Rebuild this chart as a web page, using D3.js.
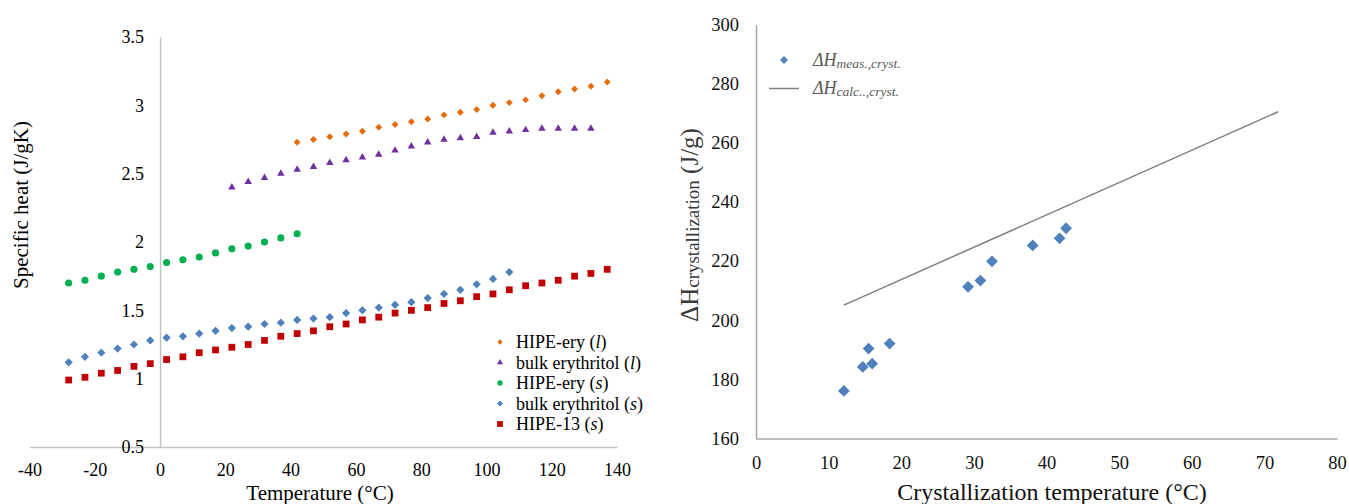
<!DOCTYPE html>
<html>
<head>
<meta charset="utf-8">
<script src="https://cdn.jsdelivr.net/npm/d3@7"></script>
<style>
  body { margin: 0; background: #fff; }
  svg { display: block; font-family: "Liberation Serif", "Times New Roman", serif; }
</style>
</head>
<body>
<div class="chart"></div>
<script>
const width = 1349,
    height = 504;

// left panel: specific heat vs temperature
const hipeEryL_T  = [42,47,52,57,62,67,72,77,82,87,92,97,102,107,112,117,122,127,132,137];
const hipeEryL_cp = [2.73,2.75,2.77,2.79,2.81,2.84,2.86,2.88,2.90,2.93,2.95,2.97,3.00,3.02,3.04,3.07,3.10,3.12,3.14,3.17];
const bulkL_T  = [22,27,32,37,42,47,52,57,62,67,72,77,82,87,92,97,102,107,112,117,122,127,132];
const bulkL_cp = [2.40,2.44,2.47,2.50,2.53,2.55,2.58,2.60,2.62,2.64,2.67,2.70,2.73,2.75,2.76,2.77,2.80,2.81,2.82,2.83,2.83,2.83,2.83];
const hipeEryS_T  = [-28,-23,-18,-13,-8,-3,2,7,12,17,22,27,32,37,42];
const hipeEryS_cp = [1.70,1.72,1.75,1.78,1.80,1.82,1.85,1.87,1.89,1.92,1.95,1.97,2.00,2.03,2.06];
const bulkS_T  = [-28,-23,-18,-13,-8,-3,2,7,12,17,22,27,32,37,42,47,52,57,62,67,72,77,82,87,92,97,102,107];
const bulkS_cp = [1.12,1.16,1.19,1.22,1.25,1.28,1.30,1.31,1.33,1.35,1.37,1.38,1.40,1.41,1.43,1.44,1.45,1.48,1.50,1.52,1.54,1.56,1.59,1.62,1.65,1.69,1.73,1.78];
const hipe13_T  = [-28,-23,-18,-13,-8,-3,2,7,12,17,22,27,32,37,42,47,52,57,62,67,72,77,82,87,92,97,102,107,112,117,122,127,132,137];
const hipe13_cp = [0.99,1.01,1.04,1.06,1.09,1.11,1.14,1.16,1.19,1.21,1.23,1.25,1.28,1.31,1.33,1.35,1.38,1.40,1.43,1.45,1.48,1.50,1.52,1.55,1.57,1.60,1.62,1.65,1.68,1.70,1.72,1.75,1.77,1.80];
const leftXTicks = [-40,-20,0,20,40,60,80,100,120,140];
const leftYTicks = [0.5,1,1.5,2,2.5,3,3.5];

// right panel: crystallization enthalpy
const crystT  = [12.1,14.7,15.5,16.0,18.4,29.2,30.9,32.5,38.1,41.8,42.7];
const dHmeas  = [176.1,184.2,190.4,185.3,192.1,211.3,213.4,219.9,225.3,227.7,231.1];
const calcT   = [12.1,71.9];
const dHcalc  = [205.1,270.5];
const rightXTicks = [0,10,20,30,40,50,60,70,80];
const rightYTicks = [160,180,200,220,240,260,280,300];

// square diamond like excel markers
const squareDiamond = {
  draw(ctx, size) {
    const r = Math.sqrt(size / 2);
    ctx.moveTo(0, -r); ctx.lineTo(r, 0); ctx.lineTo(0, r); ctx.lineTo(-r, 0); ctx.closePath();
  }
};

const series = [
  {name: "HIPE-ery ", st: "l", T: hipeEryL_T, cp: hipeEryL_cp, color: "#E46C0A", type: squareDiamond, size: 24, lsize: 14},
  {name: "bulk erythritol ", st: "l", T: bulkL_T, cp: bulkL_cp, color: "#7030A0", type: d3.symbolTriangle, size: 24, lsize: 16},
  {name: "HIPE-ery ", st: "s", T: hipeEryS_T, cp: hipeEryS_cp, color: "#00B050", type: d3.symbolCircle, size: 40, lsize: 22},
  {name: "bulk erythritol ", st: "s", T: bulkS_T, cp: bulkS_cp, color: "#4F81BD", type: squareDiamond, size: 34, lsize: 18},
  {name: "HIPE-13 ", st: "s", T: hipe13_T, cp: hipe13_cp, color: "#C00000", type: d3.symbolSquare, size: 46, lsize: 34}
];

const svg = d3.select(".chart").append("svg")
    .attr("width", width)
    .attr("height", height);

// ---------- left chart ----------
const x1 = d3.scaleLinear().domain([-40, 140]).range([29.5, 617]);
const y1 = d3.scaleLinear().domain([0.5, 3.5]).range([447, 37]);
const left = svg.append("g");

left.append("g")
    .attr("transform", `translate(0,${y1(0.5)})`)
    .call(d3.axisBottom(x1).tickValues(leftXTicks).tickSize(0).tickSizeOuter(0).tickPadding(16).tickFormat(d => String(d)))
    .call(g => g.select(".domain").attr("stroke", "#c4c4c4").attr("stroke-width", 1.5))
    .call(g => g.selectAll("text").attr("font-size", 18).attr("fill", "#000").style("font-family", "Liberation Serif"));

left.append("g")
    .attr("transform", `translate(${x1(0)},0)`)
    .call(d3.axisLeft(y1).tickValues(leftYTicks).tickSize(0).tickSizeOuter(0).tickPadding(16).tickFormat(d => String(d)))
    .call(g => g.select(".domain").attr("stroke", "#c4c4c4").attr("stroke-width", 1.5))
    .call(g => g.selectAll("text").attr("font-size", 18).attr("fill", "#000").style("font-family", "Liberation Serif"));

series.forEach(s => {
  left.append("g").selectAll("path")
      .data(s.T.map((t, i) => [t, s.cp[i]]))
      .enter().append("path")
      .attr("d", d3.symbol().type(s.type).size(s.size))
      .attr("transform", d => `translate(${x1(d[0])},${y1(d[1])})`)
      .attr("fill", s.color);
});

const legend = left.append("g");
series.forEach((s, i) => {
  const yy = 342 + i * 20.5;
  legend.append("path")
      .attr("d", d3.symbol().type(s.type).size(s.lsize))
      .attr("transform", `translate(500,${yy})`)
      .attr("fill", s.color);
  const t = legend.append("text")
      .attr("x", 516).attr("y", yy).attr("dy", "0.35em")
      .attr("font-size", 18).attr("fill", "#000");
  t.append("tspan").text(s.name + "(");
  t.append("tspan").attr("font-style", "italic").text(s.st);
  t.append("tspan").text(")");
});

left.append("text")
    .attr("x", 320).attr("y", 500)
    .attr("text-anchor", "middle")
    .attr("font-size", 21)
    .text("Temperature (°C)");

left.append("text")
    .attr("transform", "translate(28,205) rotate(-90)")
    .attr("text-anchor", "middle")
    .attr("font-size", 21)
    .text("Specific heat (J/gK)");

// ---------- right chart ----------
const x2 = d3.scaleLinear().domain([0, 80]).range([756, 1337]);
const y2 = d3.scaleLinear().domain([160, 300]).range([438.5, 24.5]);
const right = svg.append("g");

right.append("g")
    .attr("transform", `translate(0,${y2(160)})`)
    .call(d3.axisBottom(x2).tickValues(rightXTicks).tickSize(0).tickSizeOuter(0).tickPadding(17))
    .call(g => g.select(".domain").attr("stroke", "#a6a6a6").attr("stroke-width", 1.5))
    .call(g => g.selectAll("text").attr("font-size", 18.5).attr("fill", "#111").style("font-family", "Liberation Serif"));

right.append("g")
    .attr("transform", `translate(${x2(0)},0)`)
    .call(d3.axisLeft(y2).tickValues(rightYTicks).tickSize(0).tickSizeOuter(0).tickPadding(17))
    .call(g => g.select(".domain").attr("stroke", "#a6a6a6").attr("stroke-width", 1.5))
    .call(g => g.selectAll("text").attr("font-size", 18.5).attr("fill", "#111").style("font-family", "Liberation Serif"));

right.append("path")
    .datum(calcT.map((t, i) => [t, dHcalc[i]]))
    .attr("d", d3.line().x(d => x2(d[0])).y(d => y2(d[1])))
    .attr("fill", "none")
    .attr("stroke", "#7f7f7f")
    .attr("stroke-width", 1.5);

right.append("g").selectAll("path")
    .data(crystT.map((t, i) => [t, dHmeas[i]]))
    .enter().append("path")
    .attr("d", d3.symbol().type(squareDiamond).size(70))
    .attr("transform", d => `translate(${x2(d[0])},${y2(d[1])})`)
    .attr("fill", "#4F81BD");

// legend
right.append("path")
    .attr("d", d3.symbol().type(squareDiamond).size(32))
    .attr("transform", "translate(784,60)")
    .attr("fill", "#4F81BD");
right.append("line")
    .attr("x1", 769).attr("x2", 799).attr("y1", 88.5).attr("y2", 88.5)
    .attr("stroke", "#7f7f7f").attr("stroke-width", 1.5);

[["meas.,cryst.", 66], ["calc..,cryst.", 94]].forEach(([sub, yy]) => {
  const t = right.append("text")
      .attr("x", 813).attr("y", yy)
      .attr("fill", "#595959").attr("font-style", "italic");
  t.append("tspan").attr("font-size", 18).text("ΔH");
  t.append("tspan").attr("font-size", 13.5).attr("dy", 2).text(sub);
});

right.append("text")
    .attr("x", 1052).attr("y", 500)
    .attr("text-anchor", "middle")
    .attr("font-size", 24)
    .attr("fill", "#111")
    .text("Crystallization temperature (°C)");

const ytitle = right.append("text")
    .attr("transform", "translate(698,225) rotate(-90)")
    .attr("text-anchor", "middle")
    .attr("fill", "#3a3a3a");
ytitle.append("tspan").attr("font-size", 25).text("ΔH");
ytitle.append("tspan").attr("font-size", 19).attr("dy", 1).text("crystallization");
ytitle.append("tspan").attr("font-size", 25).attr("dy", -1).text(" (J/g)");
</script>
</body>
</html>
